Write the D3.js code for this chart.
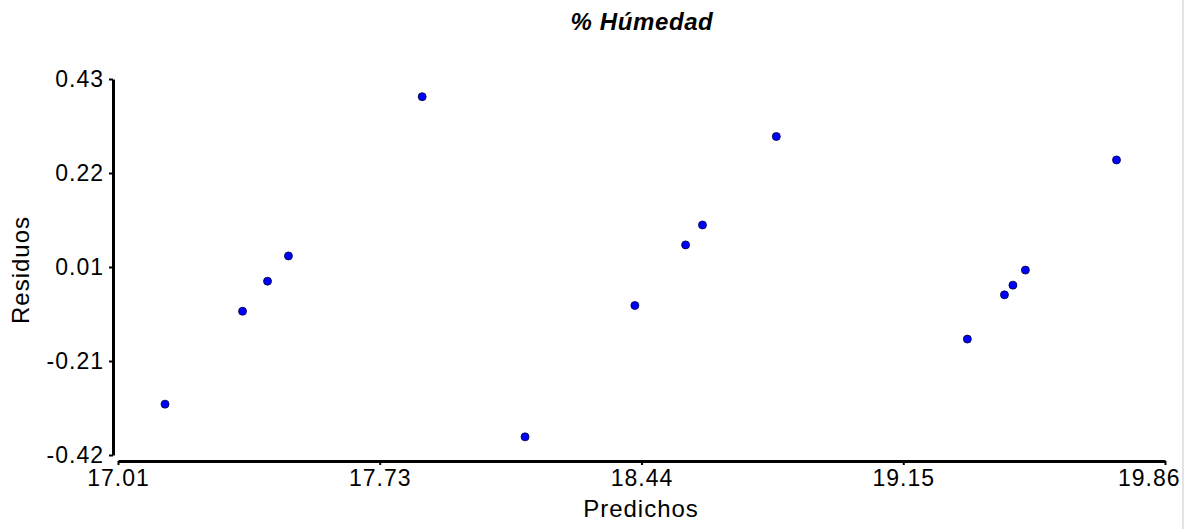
<!DOCTYPE html>
<html><head><meta charset="utf-8">
<script src="https://cdn.jsdelivr.net/npm/d3@7"></script>
<style>body{margin:0;background:#fff}svg{display:block}text{font-family:"Liberation Sans",Arial,sans-serif}</style>
</head><body><svg id="c" width="1196" height="529"></svg>
<script>
const title = "% Húmedad";
const xLabel = "Predichos";
const yLabel = "Residuos";
const predichos = [17.138, 17.349, 17.417, 17.474, 17.838, 18.118, 18.417, 18.555, 18.601, 18.802, 19.322, 19.423, 19.446, 19.480, 19.728];
const residuos  = [-0.305, -0.095, -0.027, 0.030, 0.390, -0.379, -0.082, 0.055, 0.100, 0.300, -0.158, -0.058, -0.036, -0.002, 0.247];
const xTicks = [17.01, 17.7225, 18.435, 19.1475, 19.86];
const xTickLabels = ["17.01", "17.73", "18.44", "19.15", "19.86"];
const yTicks = [0.43, 0.2175, 0.005, -0.2075, -0.42];
const yTickLabels = ["0.43", "0.22", "0.01", "-0.21", "-0.42"];

const svg = d3.select("#c");
const x = d3.scaleLinear().domain([17.01, 19.86]).range([118, 1165]);
const y = d3.scaleLinear().domain([-0.42, 0.43]).range([455, 79]);

// right border line
svg.append("line").attr("x1",1183).attr("x2",1183).attr("y1",0).attr("y2",529)
  .attr("stroke","#c8c8c8").attr("stroke-width",1);

const xAxis = d3.axisBottom(x).tickValues(xTicks).tickFormat((d,i)=>xTickLabels[i]).tickSize(4).tickSizeOuter(0).tickPadding(5);
const gx = svg.append("g").attr("transform","translate(0,461)").call(xAxis);
gx.select(".domain").attr("stroke","#000").attr("stroke-width",3);
gx.selectAll(".tick line").attr("stroke","#000").attr("stroke-width",2);
gx.selectAll(".tick text").attr("font-size",23).attr("letter-spacing","1px").attr("fill","#000");
// last label is kept inside the frame
gx.selectAll(".tick text").filter((d,i)=>i===xTicks.length-1)
  .attr("text-anchor","end").attr("x", 1180 - x(xTicks[xTicks.length-1]));

const yAxis = d3.axisLeft(y).tickValues(yTicks).tickFormat((d,i)=>yTickLabels[i]).tickSize(4).tickSizeOuter(0).tickPadding(5);
const gy = svg.append("g").attr("transform","translate(113,0)").call(yAxis);
gy.select(".domain").attr("stroke","#000").attr("stroke-width",3);
gy.selectAll(".tick line").attr("stroke","#000").attr("stroke-width",2);
gy.selectAll(".tick text").attr("font-size",23).attr("letter-spacing","1px").attr("fill","#000");

svg.append("g").selectAll("circle").data(predichos).join("circle")
  .attr("cx",(d)=>x(d)).attr("cy",(d,i)=>y(residuos[i])).attr("r",4)
  .attr("fill","#0000ff").attr("stroke","#000033").attr("stroke-width",0.8);

svg.append("text").attr("x",642).attr("y",30).attr("text-anchor","middle")
  .attr("font-size",24).attr("letter-spacing","0.6px").attr("font-weight","bold").attr("font-style","italic").text(title);
svg.append("text").attr("x",641).attr("y",517).attr("text-anchor","middle")
  .attr("font-size",24).attr("letter-spacing","1px").text(xLabel);
svg.append("text").attr("transform","translate(29,270) rotate(-90)").attr("text-anchor","middle")
  .attr("font-size",24).attr("letter-spacing","1px").text(yLabel);
</script></body></html>
